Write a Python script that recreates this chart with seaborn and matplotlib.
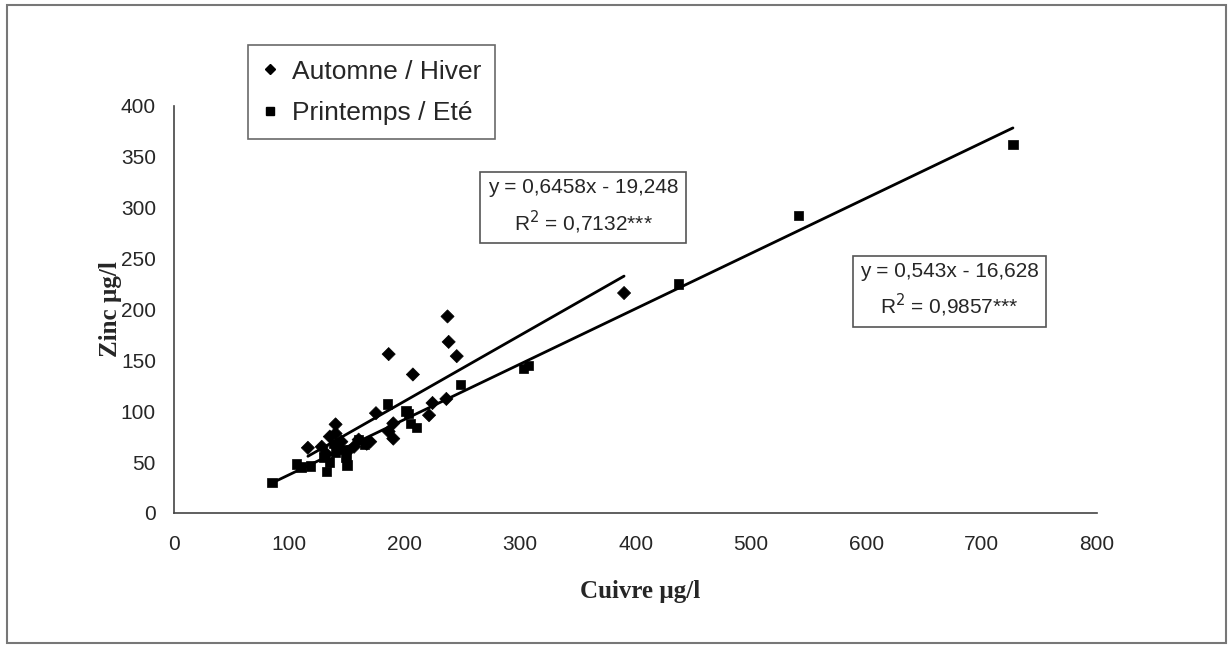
import pandas as pd
import seaborn as sns
import matplotlib.pyplot as plt
from matplotlib.patches import Rectangle
from matplotlib.lines import Line2D

# Values
seasons = ["Automne / Hiver", "Printemps / Eté"]

autumn_cu = [390, 237, 238, 245, 186, 207, 236, 224, 221, 175, 190, 190, 186,
             140, 116, 128, 135, 140, 145, 150, 160, 167, 156, 170, 132]
autumn_zn = [216, 193, 168, 154, 156, 136, 112, 108, 96, 98, 88, 73, 80,
             87, 64, 65, 75, 78, 70, 60, 72, 68, 65, 70, 58]

spring_cu = [727, 541, 437, 303, 307, 248, 203, 201, 185, 205, 210, 85, 106,
             110, 118, 132, 135, 150, 149, 130, 140, 165, 160, 138, 145]
spring_zn = [362, 292, 225, 142, 145, 126, 98, 100, 107, 88, 84, 30, 48,
             45, 46, 41, 50, 47, 55, 55, 60, 67, 72, 68, 62]

# trend equations shown on the chart
slopes = [0.6458, 0.543]
intercepts = [-19.248, -16.628]
eq_labels = ["y = 0,6458x - 19,248\nR$^2$ = 0,7132***",
             "y = 0,543x - 16,628\nR$^2$ = 0,9857***"]

x_ticks = [0, 100, 200, 300, 400, 500, 600, 700, 800]
y_ticks = [0, 50, 100, 150, 200, 250, 300, 350, 400]

df = pd.concat([
    pd.DataFrame({"cuivre": autumn_cu, "zinc": autumn_zn, "saison": seasons[0]}),
    pd.DataFrame({"cuivre": spring_cu, "zinc": spring_zn, "saison": seasons[1]}),
])

sns.set_style("white")
plt.rcParams["font.family"] = ["Liberation Sans", "DejaVu Sans"]

fig = plt.figure(figsize=(12.3, 6.45), dpi=100)
ax = fig.add_axes([0.1415, 0.2047, 0.7505, 0.6315])

markers = {seasons[0]: "D", seasons[1]: "s"}
sns.scatterplot(data=df, x="cuivre", y="zinc", style="saison", markers=markers,
                color="black", s=45, edgecolor="black", linewidth=0.5,
                legend=False, ax=ax)

# regression lines over each season's data range
for xs, a, b in [(autumn_cu, slopes[0], intercepts[0]), (spring_cu, slopes[1], intercepts[1])]:
    x_line = [min(xs), max(xs)]
    y_line = [a * v + b for v in x_line]
    ax.plot(x_line, y_line, color="black", lw=2)

ax.set_xlim(0, 800)
ax.set_ylim(0, 400)
ax.set_xticks(x_ticks)
ax.set_yticks(y_ticks)
ax.tick_params(axis="x", length=5, width=1, pad=11, labelsize=15, color="#444444")
ax.tick_params(axis="y", length=6, width=1, pad=7, labelsize=15, color="#444444")
for side in ["top", "right"]:
    ax.spines[side].set_visible(False)
for side in ["left", "bottom"]:
    ax.spines[side].set_color("#444444")
    ax.spines[side].set_linewidth(1.2)

ax.set_xlabel("Cuivre µg/l", fontsize=18, fontweight="bold", family="Liberation Serif")
ax.set_ylabel("Zinc µg/l", fontsize=18, fontweight="bold", family="Liberation Serif")
ax.xaxis.set_label_coords(0.505, -0.165)
ax.yaxis.set_label_coords(-0.056, 0.5)

# equation boxes
box = dict(boxstyle="square,pad=0.35", facecolor="white", edgecolor="#555555", lw=1.2)
fig.text(0.474, 0.679, eq_labels[0], ha="center", va="center", fontsize=15,
         linespacing=1.5, bbox=box)
fig.text(0.772, 0.549, eq_labels[1], ha="center", va="center", fontsize=15,
         linespacing=1.5, bbox=box)

# legend
handles = [Line2D([], [], ls="", marker="D", color="black", markersize=5),
           Line2D([], [], ls="", marker="s", color="black", markersize=5.5)]
leg = fig.legend(handles, seasons, loc="upper left", bbox_to_anchor=(0.2016, 0.93),
                 fontsize=19, frameon=True, fancybox=False, handlelength=0.6,
                 handletextpad=0.5, borderpad=0.55, labelspacing=0.65, borderaxespad=0)
leg.get_frame().set_edgecolor("#444444")
leg.get_frame().set_linewidth(1.2)

# outer chart frame
fig.patches.append(Rectangle((0.006, 0.003), 0.991, 0.99, transform=fig.transFigure,
                             fill=False, edgecolor="#777777", lw=1.5))

fig.savefig("out.png", dpi=100)
